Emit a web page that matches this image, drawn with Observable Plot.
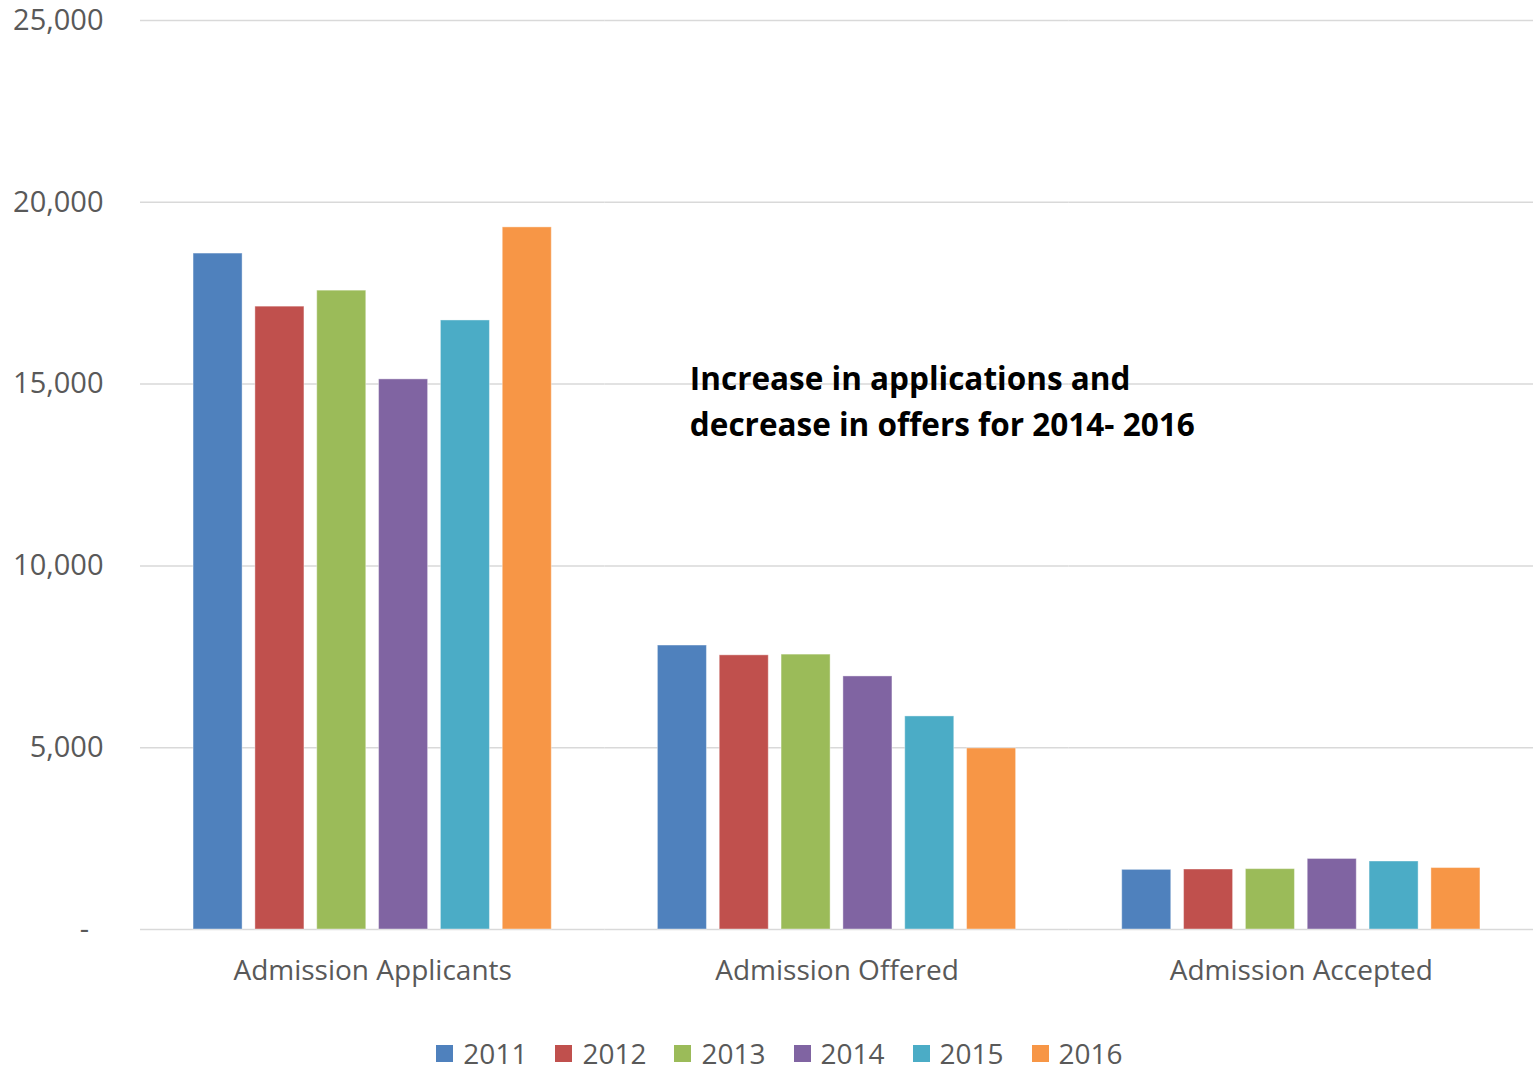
<!DOCTYPE html>
<html>
<head>
<meta charset="utf-8">
<script src="https://cdn.jsdelivr.net/npm/d3@7"></script>
<script src="https://cdn.jsdelivr.net/npm/@observablehq/plot@0.6"></script>
<style>
  body { margin: 0; background: #fff; font-family: "Open Sans", sans-serif; }
  #chart svg { display: block; }
  #legend { display: flex; justify-content: center; gap: 28px; margin-top: 33px; padding-left: 26px; font-size: 28px; line-height: 40px; color: #595959; }
  #legend .item { display: flex; align-items: center; gap: 10px; }
  #legend .sw { width: 17px; height: 17px; display: inline-block; }
</style>
</head>
<body>
<div id="chart"></div>
<div id="legend"></div>
<script>
const categories = ["Admission Applicants", "Admission Offered", "Admission Accepted"];
const years = ["2011", "2012", "2013", "2014", "2015", "2016"];
const colors = ["#4F81BD", "#C0504D", "#9BBB59", "#8064A2", "#4BACC6", "#F79646"];
const applicants = [18590, 17130, 17570, 15130, 16750, 19310];
const offered = [7810, 7540, 7560, 6960, 5860, 4980];
const accepted = [1640, 1650, 1660, 1940, 1870, 1690];
const yTicks = [0, 5000, 10000, 15000, 20000, 25000];
const note = ["Increase in applications and", "decrease in offers for 2014- 2016"];

const series = [applicants, offered, accepted];
const rows = [];
categories.forEach((c, i) => years.forEach((y, j) => rows.push({category: c, year: y, value: series[i][j]})));

const chart = Plot.plot({
  width: 1533,
  height: 1000,
  marginLeft: 140,
  marginRight: 0,
  marginTop: 20,
  marginBottom: 71,
  style: {fontFamily: "Open Sans, sans-serif", color: "#595959"},
  fx: {domain: categories, padding: 0, label: null, round: false},
  x: {domain: years, paddingInner: 0.207, paddingOuter: 0.858, axis: null, round: false},
  y: {domain: [0, 25000], label: null},
  color: {domain: years, range: colors},
  marks: [
    Plot.gridY(yTicks, {stroke: "#d9d9d9", strokeOpacity: 1, strokeWidth: 1.5}),
    Plot.axisY(yTicks, {tickSize: 0, tickPadding: 37, fontSize: 29, fill: "#595959",
      tickFormat: d => d === 0 ? "-\u2002" : d3.format(",")(d)}),
    Plot.axisFx({anchor: "bottom", tickSize: 0, tickPadding: 31, fontSize: 28, fill: "#595959", label: null}),
    Plot.barY(rows, {fx: "category", x: "year", y: "value", fill: "year", stroke: "white", strokeOpacity: 0.4, strokeWidth: 1}),
    Plot.text([note.join("\n")], {fx: [categories[1]], frameAnchor: "top-left", x: null, y: null, text: d => d,
      dx: 85, dy: 338, fontSize: 31.5, fontWeight: "bold", fill: "#000", lineHeight: 1.43, textAnchor: "start", lineAnchor: "top"})
  ]
});
document.getElementById("chart").appendChild(chart);

const legend = document.getElementById("legend");
years.forEach((y, i) => {
  const it = document.createElement("div");
  it.className = "item";
  it.innerHTML = `<span class="sw" style="background:${colors[i]}"></span><span>${y}</span>`;
  legend.appendChild(it);
});
</script>
</body>
</html>
